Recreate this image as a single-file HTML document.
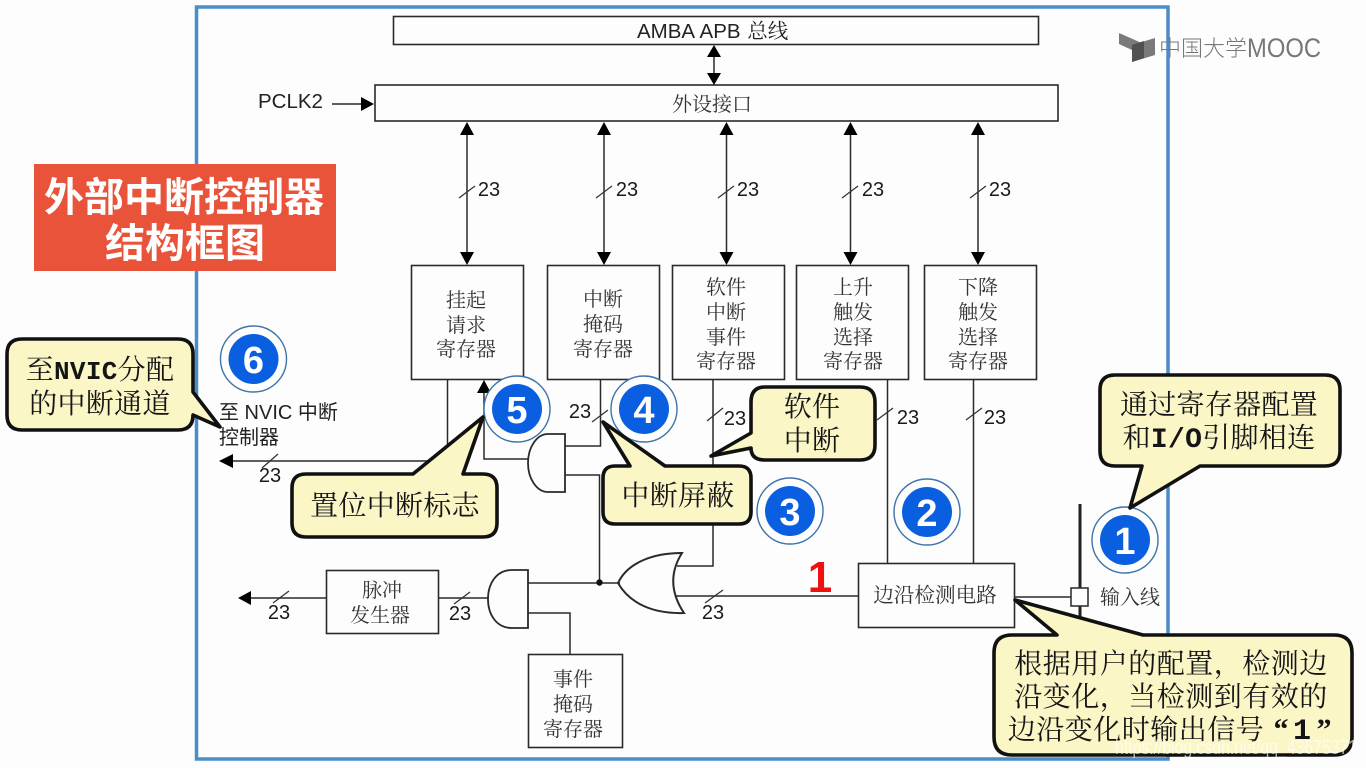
<!DOCTYPE html>
<html lang="zh">
<head>
<meta charset="utf-8">
<title>外部中断控制器结构框图</title>
<style>
html,body{margin:0;padding:0;width:1366px;height:768px;overflow:hidden;background:#fdfdfd}
svg{display:block}
.w{fill:none;stroke:#2a2a2a;stroke-width:1.5}
.b{fill:#fdfdfd;stroke:#2a2a2a;stroke-width:1.6}
.a{fill:#000}
.s{stroke:#333;stroke-width:1.3;fill:none}
.n{font:20px "Liberation Sans",sans-serif;fill:#1a1a1a;text-anchor:middle}
.l{font:20px "Noto Serif CJK SC","Liberation Serif",serif;fill:#333;text-anchor:middle}
.e{font:20.500px "Liberation Sans","Noto Sans CJK SC",sans-serif;fill:#222}
.c{fill:#fbf6c6;stroke:#111;stroke-width:3.6;stroke-linejoin:round}
.t{font:28px "Noto Serif CJK SC","Liberation Serif",serif;fill:#151515;text-anchor:middle;letter-spacing:.3px}
.m{font-family:"Liberation Mono",monospace;font-weight:700;font-size:26px}
.ro{fill:#fdfdfd;stroke:#3f74a8;stroke-width:1.4}
.ri{fill:#0a5fe0}
.d{font:700 38px "Liberation Sans",sans-serif;fill:#fff;text-anchor:middle}
</style>
</head>
<body>
<svg width="1366" height="768" viewBox="0 0 1366 768" xmlns="http://www.w3.org/2000/svg">
<rect width="1366" height="768" fill="#fdfdfd"/>
<rect x="196.500" y="7" width="971.500" height="752" fill="none" stroke="#4b8dc9" stroke-width="3.500"/>

<!-- Top bars -->
<rect class="b" x="393.500" y="16.500" width="645" height="28"/>
<text class="e" x="637" y="38" word-spacing="1">AMBA APB <tspan font-family="'Noto Serif CJK SC',serif">总线</tspan></text>
<rect class="b" x="375" y="85" width="683" height="36"/>
<text class="l" x="712" y="111">外设接口</text>
<line class="w" x1="714" y1="52" x2="714" y2="78"/>
<polygon class="a" points="714,45 721,57 707,57"/>
<polygon class="a" points="714,85 721,73 707,73"/>
<text class="e" x="258" y="108">PCLK2</text>
<line class="w" x1="332" y1="104" x2="364" y2="104"/>
<polygon class="a" points="374,104 361,97 361,111"/>

<!-- Register arrows -->
<g class="w">
<line x1="467" y1="130" x2="467" y2="256"/>
<line x1="604" y1="130" x2="604" y2="256"/>
<line x1="726.500" y1="130" x2="726.500" y2="256"/>
<line x1="850.500" y1="130" x2="850.500" y2="256"/>
<line x1="978" y1="130" x2="978" y2="256"/>
</g>
<g class="a">
<polygon points="467,122 474,135 460,135"/><polygon points="467,265 474,252 460,252"/>
<polygon points="604,122 611,135 597,135"/><polygon points="604,265 611,252 597,252"/>
<polygon points="726.500,122 733.500,135 719.500,135"/><polygon points="726.500,265 733.500,252 719.500,252"/>
<polygon points="850.500,122 857.500,135 843.500,135"/><polygon points="850.500,265 857.500,252 843.500,252"/>
<polygon points="978,122 985,135 971,135"/><polygon points="978,265 985,252 971,252"/>
</g>
<g class="s">
<line x1="459" y1="198" x2="475" y2="186"/>
<line x1="596" y1="198" x2="612" y2="186"/>
<line x1="718" y1="198" x2="734" y2="186"/>
<line x1="842" y1="198" x2="858" y2="186"/>
<line x1="970" y1="198" x2="986" y2="186"/>
</g>
<text class="n" x="489" y="196">23</text>
<text class="n" x="627" y="196">23</text>
<text class="n" x="748" y="196">23</text>
<text class="n" x="873" y="196">23</text>
<text class="n" x="1000" y="196">23</text>

<!-- Register boxes -->
<rect class="b" x="411.500" y="265.500" width="112" height="114"/>
<text class="l"><tspan x="466" y="307">挂起</tspan><tspan x="466" y="332">请求</tspan><tspan x="466" y="356">寄存器</tspan></text>
<rect class="b" x="547.500" y="265.500" width="112" height="114"/>
<text class="l"><tspan x="603" y="306">中断</tspan><tspan x="603" y="331">掩码</tspan><tspan x="603" y="356">寄存器</tspan></text>
<rect class="b" x="672.500" y="265.500" width="112" height="114"/>
<text class="l"><tspan x="726" y="294">软件</tspan><tspan x="726" y="319">中断</tspan><tspan x="726" y="344">事件</tspan><tspan x="726" y="368">寄存器</tspan></text>
<rect class="b" x="796.500" y="265.500" width="112" height="114"/>
<text class="l"><tspan x="853" y="294">上升</tspan><tspan x="853" y="319">触发</tspan><tspan x="853" y="344">选择</tspan><tspan x="853" y="368">寄存器</tspan></text>
<rect class="b" x="924.500" y="265.500" width="112" height="114"/>
<text class="l"><tspan x="978" y="294">下降</tspan><tspan x="978" y="319">触发</tspan><tspan x="978" y="344">选择</tspan><tspan x="978" y="368">寄存器</tspan></text>

<!-- Wires -->
<g class="w">
<line x1="447.500" y1="380" x2="447.500" y2="461"/>
<line x1="230" y1="461" x2="447.500" y2="461"/>
<polyline points="484,390 484,459 529,459"/>
<polyline points="565,446 600.500,446 600.500,380"/>
<polyline points="565,475 599.500,475 599.500,583"/>
<line x1="528" y1="583" x2="620" y2="583"/>
<polyline points="677,566 713,566 713,380"/>
<line x1="676" y1="596" x2="858" y2="596"/>
<line x1="488" y1="598" x2="438" y2="598"/>
<line x1="326" y1="598" x2="250" y2="598"/>
<polyline points="528,613 570,613 570,654"/>
<line x1="887.500" y1="380" x2="887.500" y2="563"/>
<line x1="973.500" y1="380" x2="973.500" y2="563"/>
<line x1="1014" y1="597" x2="1071" y2="597"/>
</g>
<line x1="1080" y1="504" x2="1080" y2="640" stroke="#222" stroke-width="3"/>
<rect x="1071" y="588" width="17" height="18" fill="#fdfdfd" stroke="#333" stroke-width="1.600"/>
<polygon class="a" points="219,461 233,454 233,468"/>
<polygon class="a" points="238,598 251,591 251,605"/>
<polygon class="a" points="484,380 491,393 477,393"/>
<circle cx="599.500" cy="582.500" r="3.200" fill="#111"/>

<!-- Gates -->
<path class="w" style="stroke-width:1.800" fill="#fdfdfd" d="M565 434 L548 434 A 20 29 0 0 0 548 492 L565 492 Z"/>
<path class="w" style="stroke-width:1.800" d="M528 570 L512 570 C 496 570 488 584 488 599 C 488 614 496 628 512 628 L528 628 Z"/>
<path class="w" style="stroke-width:2" d="M618 583 C 628 562 654 553 682 553 C 670 572 670 592 684 613 C 654 614 630 604 618 583 Z"/>

<!-- Lower boxes -->
<rect class="b" x="326.500" y="570.500" width="112" height="63"/>
<text class="l"><tspan x="382" y="597">脉冲</tspan><tspan x="380" y="622">发生器</tspan></text>
<rect class="b" x="528.500" y="654.500" width="94" height="93"/>
<text class="l"><tspan x="573" y="686">事件</tspan><tspan x="573" y="711">掩码</tspan><tspan x="573" y="736">寄存器</tspan></text>
<rect class="b" x="858.500" y="563.500" width="156" height="64"/>
<text class="l" x="935" y="602" style="font-size:20.600px">边沿检测电路</text>

<!-- Slashes and labels -->
<g class="s">
<line x1="262" y1="468" x2="278" y2="454"/>
<line x1="273" y1="603" x2="289" y2="591"/>
<line x1="454" y1="604" x2="470" y2="592"/>
<line x1="592" y1="422" x2="608" y2="410"/>
<line x1="707" y1="421" x2="723" y2="408"/>
<line x1="705" y1="603" x2="723" y2="590"/>
<line x1="877" y1="420" x2="893" y2="408"/>
<line x1="966" y1="420" x2="982" y2="408"/>
</g>
<text class="n" x="270" y="482">23</text>
<text class="n" x="279" y="619">23</text>
<text class="n" x="460" y="620">23</text>
<text class="n" x="580" y="418">23</text>
<text class="n" x="735" y="425">23</text>
<text class="n" x="713" y="619">23</text>
<text class="n" x="908" y="424">23</text>
<text class="n" x="995" y="424">23</text>
<text class="e" x="219" y="419" fill="#333" style="font-size:20px">至 NVIC 中断</text>
<text class="e" x="219" y="444" style="font-size:20px">控制器</text>
<text class="l" x="1130" y="604">输入线</text>
<text x="820" y="592" font-family="Liberation Sans, sans-serif" font-weight="700" font-size="44" fill="#f01010" text-anchor="middle">1</text>

<!-- Title block -->
<rect x="34" y="164" width="302" height="107" fill="#e9533a"/>
<text x="184" y="211" font-family="'Noto Sans CJK SC',sans-serif" font-weight="700" font-size="40" fill="#fff" text-anchor="middle">外部中断控制器</text>
<text x="185" y="257" font-family="'Noto Sans CJK SC',sans-serif" font-weight="700" font-size="40" fill="#fff" text-anchor="middle">结构框图</text>

<!-- Numbered circles -->
<circle class="ro" cx="253.500" cy="359" r="33"/><circle class="ri" cx="253.500" cy="359" r="25"/><text class="d" x="253.500" y="373">6</text>
<circle class="ro" cx="517" cy="409" r="33"/><circle class="ri" cx="517" cy="409" r="25"/><text class="d" x="517" y="423">5</text>
<circle class="ro" cx="644" cy="409" r="33"/><circle class="ri" cx="644" cy="409" r="25"/><text class="d" x="644" y="423">4</text>
<circle class="ro" cx="790" cy="511" r="33"/><circle class="ri" cx="790" cy="511" r="25"/><text class="d" x="790" y="525">3</text>
<circle class="ro" cx="927" cy="512" r="33"/><circle class="ri" cx="927" cy="512" r="25"/><text class="d" x="927" y="526">2</text>
<circle class="ro" cx="1125" cy="540" r="33"/><circle class="ri" cx="1125" cy="540" r="25"/><text class="d" x="1125" y="554">1</text>

<!-- Callouts -->
<path class="c" d="M22 339 H178 Q193 339 193 354 V392 L220 427 L193 415 Q193 430 178 430 H22 Q7 430 7 415 V354 Q7 339 22 339 Z"/>
<text class="t"><tspan x="100" y="379">至<tspan class="m">NVIC</tspan>分配</tspan><tspan x="100" y="413">的中断通道</tspan></text>

<path class="c" d="M306 474 H413 L483 417 L463 474 H483 Q497 474 497 488 V523 Q497 537 483 537 H306 Q292 537 292 523 V488 Q292 474 306 474 Z"/>
<text class="t" x="395" y="515">置位中断标志</text>

<path class="c" d="M765 387 H860 Q875 387 875 402 V445 Q875 460 860 460 H765 Q751 460 751 448 L711 456 L751 433 V402 Q751 387 765 387 Z"/>
<text class="t"><tspan x="812" y="416">软件</tspan><tspan x="812" y="450">中断</tspan></text>

<path class="c" d="M615 466 H630 L603 422 L665 466 H739 Q751 466 751 478 V512 Q751 524 739 524 H615 Q603 524 603 512 V478 Q603 466 615 466 Z"/>
<text class="t" x="678" y="505">中断屏蔽</text>

<path class="c" d="M1115 375 H1325 Q1340 375 1340 390 V451 Q1340 466 1325 466 H1200 L1130 508 L1142 466 H1115 Q1100 466 1100 451 V390 Q1100 375 1115 375 Z"/>
<text class="t"><tspan x="1219" y="414">通过寄存器配置</tspan><tspan x="1219" y="447">和<tspan class="m" style="font-size:28px">I/O</tspan>引脚相连</tspan></text>

<path class="c" d="M1012 635 H1057 L1015 600 L1143 635 H1334 Q1352 635 1352 653 V737 Q1352 755 1334 755 H1012 Q994 755 994 737 V653 Q994 635 1012 635 Z"/>
<text class="t" style="letter-spacing:.5px"><tspan x="1171" y="673">根据用户的配置，检测边</tspan><tspan x="1171" y="706">沿变化，当检测到有效的</tspan></text>
<text class="t" x="1136" y="739" style="letter-spacing:.5px">边沿变化时输出信号</text>
<g font-family="'Liberation Serif',serif" font-weight="700" font-size="30" fill="#151515" text-anchor="middle">
<text x="1281" y="739">“</text>
<text x="1302" y="739" font-family="'Liberation Mono',monospace">1</text>
<text x="1324" y="739">”</text>
</g>

<!-- MOOC logo -->
<polygon points="1119,33 1144,44 1144,58 1132,62 1132,50 1119,44" fill="#7a7a7a"/>
<polygon points="1132,45 1155,38 1155,55 1132,62" fill="#7a7a7a"/>
<polygon points="1132,45 1144,41 1144,58 1132,62" fill="#505050"/>
<text x="1159" y="56" font-family="'Noto Sans CJK SC',sans-serif" font-weight="300" font-size="22" fill="#777">中国大学</text>
<text x="1247" y="57" font-family="'Liberation Sans',sans-serif" font-size="27" fill="#777" textLength="74" lengthAdjust="spacingAndGlyphs">MOOC</text>

<!-- Watermark -->
<text x="1115" y="754" font-family="'Liberation Sans',sans-serif" font-size="20" fill="#ffffff" fill-opacity=".65" textLength="242" lengthAdjust="spacingAndGlyphs">https://blog.csdn.net/qq_43675371</text>
</svg>
</body>
</html>
